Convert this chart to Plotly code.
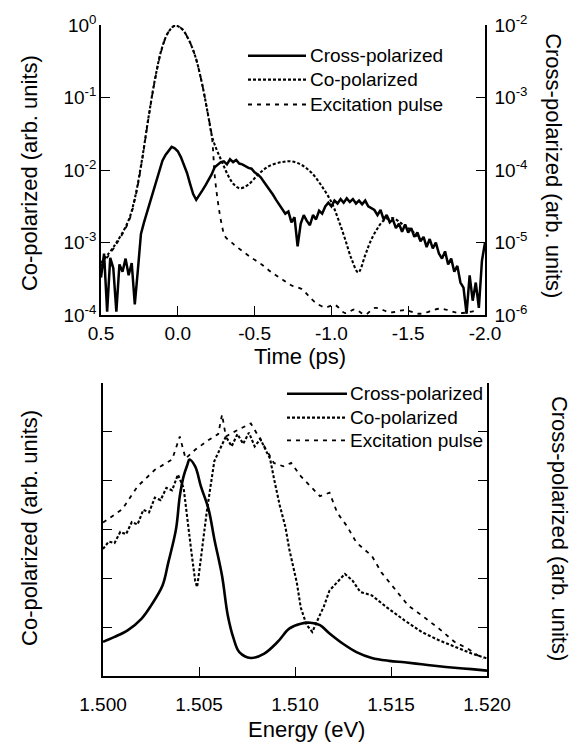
import numpy as np
import plotly.graph_objects as go

# %% top panel: time domain (log scales)
time_ticks = [0.5, 0.0, -0.5, -1.0, -1.5, -2.0]
time_ticktext = ["0.5", "0.0", "-0.5", "-1.0", "-1.5", "-2.0"]
co_exponents = [-4, -3, -2, -1, 0]
cross_exponents = [-6, -5, -4, -3, -2]

# co-polarized, log10 of signal (left axis)
copol_t = [0.500, 0.409, 0.322, 0.279, 0.235, 0.192, 0.148, 0.105, 0.062, 0.018,
           -0.025, -0.068, -0.112, -0.155, -0.198, -0.221, -0.242, -0.286, -0.329, -0.366,
           -0.405, -0.459, -0.524, -0.589, -0.676, -0.741, -0.807, -0.872, -0.937, -1.002,
           -1.045, -1.089, -1.132, -1.175, -1.219, -1.251, -1.295, -1.338, -1.395, -1.460,
           -1.525, -1.590]
copol_log = [-3.28, -3.03, -2.70, -2.38, -1.88, -1.29, -0.74, -0.33, -0.10, -0.01,
             -0.05, -0.19, -0.42, -0.78, -1.25, -1.52, -1.66, -1.88, -2.08, -2.20,
             -2.25, -2.20, -2.06, -1.95, -1.89, -1.88, -1.93, -2.04, -2.22, -2.45,
             -2.68, -2.95, -3.23, -3.41, -3.18, -3.00, -2.82, -2.70, -2.66, -2.74,
             -2.84, -2.98]

# excitation pulse, log10 of signal (left axis)
exc_t = [0.500, 0.409, 0.322, 0.279, 0.235, 0.192, 0.148, 0.105, 0.062, 0.018,
         -0.025, -0.068, -0.112, -0.155, -0.198, -0.221, -0.242, -0.264, -0.286, -0.307,
         -0.351, -0.416, -0.481, -0.546, -0.611, -0.676, -0.741, -0.807, -0.850, -0.893,
         -0.958, -1.023, -1.089, -1.154, -1.219, -1.284, -1.382, -1.479, -1.577, -1.707,
         -1.837, -1.954]
exc_log = [-3.32, -3.05, -2.72, -2.40, -1.90, -1.30, -0.75, -0.34, -0.10, -0.01,
           -0.05, -0.19, -0.42, -0.78, -1.25, -1.52, -2.11, -2.48, -2.75, -2.91,
           -3.00, -3.11, -3.21, -3.30, -3.41, -3.50, -3.59, -3.64, -3.73, -3.82,
           -3.89, -3.86, -3.97, -3.92, -3.99, -3.90, -3.96, -3.93, -3.98, -3.91,
           -3.97, -3.93]

# cross-polarized, log10 of signal (right axis), sampled every 0.02 ps
cross_t = np.linspace(0.5, -2.0, 126)
cross_log = [-5.48, -5.15, -5.95, -5.21, -5.35, -5.95, -5.30, -5.40, -5.22, -5.45,
             -5.28, -5.85, -5.38,
             -4.88, -4.72, -4.58, -4.42, -4.29, -4.15, -3.99, -3.87, -3.79, -3.74,
             -3.68, -3.70, -3.74, -3.82, -3.92, -4.04, -4.19, -4.33,
             -4.41, -4.35, -4.28, -4.21, -4.14, -4.06, -3.96, -3.93, -3.89, -3.88,
             -3.92, -3.85, -3.89, -3.86, -3.91, -3.92, -3.95, -3.97, -3.98, -4.03,
             -4.06, -4.10, -4.16, -4.22, -4.27, -4.34, -4.41, -4.47, -4.54, -4.60,
             -4.57, -4.72, -4.65, -5.05, -4.74, -4.62, -4.70, -4.76, -4.62, -4.68,
             -4.56, -4.60, -4.50, -4.45, -4.50, -4.42, -4.46, -4.40, -4.45, -4.39,
             -4.44, -4.40, -4.46, -4.42, -4.47, -4.42, -4.50, -4.52, -4.55, -4.62,
             -4.55, -4.68, -4.62, -4.72, -4.68, -4.80, -4.74, -4.85, -4.75, -4.86,
             -4.80, -4.92, -4.86, -4.98, -4.92, -5.06, -4.95, -5.08, -5.00, -5.15,
             -5.22, -5.12, -5.30, -5.22, -5.40, -5.32, -5.55, -5.62, -5.98, -5.45,
             -5.80, -5.55, -5.90, -5.25, -5.00]

# %% bottom panel: spectra (linear, arb. units)
energy_ticks = [1.500, 1.505, 1.510, 1.515, 1.520]
energy_ticktext = ["1.500", "1.505", "1.510", "1.515", "1.520"]
spec_ticks = [1, 2, 3, 4, 5, 6]

cross_e = [1.5000, 1.5006, 1.5013, 1.5020, 1.5025, 1.5031, 1.5034, 1.5038, 1.5040, 1.5042,
           1.5044, 1.5045, 1.5048, 1.5051, 1.5055, 1.5058, 1.5062, 1.5065, 1.5068, 1.5071,
           1.5077, 1.5084, 1.5091, 1.5097, 1.5103, 1.5108, 1.5113, 1.5118, 1.5125, 1.5132,
           1.5140, 1.5149, 1.5157, 1.5166, 1.5175, 1.5183, 1.5192, 1.5200]
cross_spec = [0.70, 0.80, 0.94, 1.17, 1.44, 1.85, 2.32, 3.00, 3.68, 4.09,
              4.33, 4.43, 4.29, 3.88, 3.41, 2.80, 2.05, 1.24, 0.77, 0.49,
              0.37, 0.46, 0.70, 0.97, 1.07, 1.09, 1.04, 0.87, 0.66, 0.49,
              0.37, 0.31, 0.28, 0.24, 0.20, 0.17, 0.14, 0.11]

copol_e = [1.5000, 1.5003, 1.5006, 1.5009, 1.5012, 1.5015, 1.5018, 1.5021, 1.5024, 1.5027,
           1.5030, 1.5033, 1.5036, 1.5039, 1.5042, 1.5044, 1.5046, 1.5048, 1.5049, 1.5050,
           1.5052, 1.5054, 1.5056, 1.5058, 1.5061, 1.5064, 1.5067, 1.5070, 1.5073, 1.5076,
           1.5079, 1.5082, 1.5085, 1.5087, 1.5089, 1.5092, 1.5095, 1.5097, 1.5101, 1.5103,
           1.5106, 1.5109, 1.5111, 1.5115, 1.5118, 1.5122, 1.5126, 1.5130, 1.5134, 1.5140,
           1.5148, 1.5157, 1.5166, 1.5175, 1.5183, 1.5192, 1.5200]
copol_spec = [2.60, 2.75, 2.72, 2.95, 2.90, 3.15, 3.10, 3.40, 3.35, 3.65,
              3.60, 3.85, 3.80, 4.12, 3.85, 3.15, 2.55, 1.95, 1.82, 2.10,
              2.75, 3.35, 3.88, 4.40, 4.65, 4.90, 4.70, 4.95, 4.75, 4.98,
              4.70, 4.85, 4.60, 4.45, 4.05, 3.50, 3.05, 2.60, 1.90, 1.40,
              1.05, 0.90, 1.08, 1.42, 1.75, 1.92, 2.09, 1.95, 1.72, 1.65,
              1.40, 1.14, 0.90, 0.73, 0.60, 0.46, 0.36]

exc_e = [1.5000, 1.5010, 1.5018, 1.5027, 1.5036, 1.5040, 1.5043, 1.5048, 1.5055, 1.5060,
         1.5062, 1.5064, 1.5067, 1.5073, 1.5077, 1.5083, 1.5089, 1.5094, 1.5098, 1.5103,
         1.5108, 1.5113, 1.5118, 1.5122, 1.5127, 1.5132, 1.5140, 1.5145, 1.5152, 1.5159,
         1.5166, 1.5175, 1.5183, 1.5190, 1.5198]
exc_spec = [3.14, 3.41, 3.88, 4.22, 4.43, 4.90, 4.45, 4.63, 4.83, 4.95,
            5.35, 4.90, 4.97, 5.10, 5.17, 4.77, 4.36, 4.29, 4.36, 4.09,
            3.88, 3.68, 3.75, 3.34, 3.07, 2.73, 2.46, 2.12, 1.78, 1.44,
            1.24, 0.97, 0.70, 0.56, 0.35]

series_names = ["Cross-polarized", "Co-polarized", "Excitation pulse"]

# %% styles / geometry
W, H = 576, 743
L, R, T, B = 101, 89, 21, 67
PW, PH = W - L - R, H - T - B
FONT = "Liberation Sans, Arial, sans-serif"

CROSS_LINE = {"color": "black", "width": 2.6}
COPOL_LINE = {"color": "black", "width": 2.1, "dash": "3px,2px"}
EXC_LINE = {"color": "black", "width": 1.8, "dash": "4px,5px"}


def xp(px):
    return (px - L) / PW


def yp(py):
    return (H - B - py) / PH


fig = go.Figure()

# top panel traces
fig.add_trace(go.Scatter(x=exc_t, y=10 ** np.array(exc_log), mode="lines",
                         line=EXC_LINE, line_shape="spline", xaxis="x", yaxis="y",
                         name=series_names[2]))
fig.add_trace(go.Scatter(x=copol_t, y=10 ** np.array(copol_log), mode="lines",
                         line=COPOL_LINE, line_shape="spline", xaxis="x", yaxis="y",
                         name=series_names[1]))
fig.add_trace(go.Scatter(x=cross_t, y=10 ** np.array(cross_log), mode="lines",
                         line={"color": "black", "width": 2.5}, xaxis="x", yaxis="y2",
                         name=series_names[0]))

# bottom panel traces
fig.add_trace(go.Scatter(x=exc_e, y=exc_spec, mode="lines", line=EXC_LINE,
                         xaxis="x2", yaxis="y3", name=series_names[2]))
fig.add_trace(go.Scatter(x=copol_e, y=copol_spec, mode="lines", line=COPOL_LINE,
                         xaxis="x2", yaxis="y3", name=series_names[1]))
fig.add_trace(go.Scatter(x=cross_e, y=cross_spec, mode="lines", line=CROSS_LINE,
                         line_shape="spline", xaxis="x2", yaxis="y4",
                         name=series_names[0]))

axis_common = dict(
    showline=True, linecolor="black", linewidth=1.5, showgrid=False, zeroline=False,
    ticks="inside", ticklen=9, tickwidth=1, tickcolor="black",
    tickfont={"size": 19, "color": "black", "family": FONT},
)

top_x = [xp(101), xp(485)]
top_y = [yp(313), yp(21)]
bot_x = [xp(103), xp(487)]
bot_y = [yp(676), yp(381)]

fig.update_layout(
    width=W, height=H,
    margin={"l": L, "r": R, "t": T, "b": B},
    paper_bgcolor="white", plot_bgcolor="white",
    showlegend=False,
    font={"family": FONT, "color": "black"},
    xaxis=dict(axis_common, domain=top_x, anchor="y", range=[0.5, -2.0],
               tickvals=time_ticks, ticktext=time_ticktext),
    yaxis=dict(axis_common, domain=top_y, anchor="x", type="log", range=[-4, 0],
               tickvals=[10.0 ** e for e in co_exponents],
               ticktext=[f"10<sup>{e}</sup>" for e in co_exponents],
               ticklabelstandoff=-1),
    yaxis2=dict(axis_common, overlaying="y", side="right", anchor="x", type="log",
                range=[-6, -2], tickvals=[10.0 ** e for e in cross_exponents],
                ticktext=[f"10<sup>{e}</sup>" for e in cross_exponents],
                ticklabelstandoff=4),
    xaxis2=dict(axis_common, domain=bot_x, anchor="y3", range=[1.5, 1.52],
                tickvals=energy_ticks, ticktext=energy_ticktext, ticklabelstandoff=10),
    yaxis3=dict(axis_common, domain=bot_y, anchor="x2", range=[0, 6],
                tickvals=spec_ticks, showticklabels=False),
    yaxis4=dict(axis_common, overlaying="y3", side="right", anchor="x2", range=[0, 6],
                tickvals=spec_ticks, showticklabels=False),
)

# axis titles
title_font = {"size": 22, "color": "black", "family": FONT}
titles = [
    ("Time (ps)", 300, 355, 0),
    ("Energy (eV)", 306, 730, 0),
    ("Co-polarized (arb. units)", 29, 170, -90),
    ("Co-polarized (arb. units)", 30, 527, -90),
    ("Cross-polarized (arb. units)", 554, 162, 90),
    ("Cross-polarized (arb. units)", 559, 527, 90),
]
for text, px, py, ang in titles:
    fig.add_annotation(text=text, x=xp(px), y=yp(py), xref="paper", yref="paper",
                       showarrow=False, textangle=ang, font=title_font,
                       xanchor="center", yanchor="middle")

# legends drawn as line samples + labels
legend_font = {"size": 19, "color": "black", "family": FONT}
legend_styles = [CROSS_LINE, COPOL_LINE, EXC_LINE]
legend_boxes = [
    (248, 306, 308, [52, 76, 101]),
    (287, 347, 348, [392, 416, 439]),
]
for x0, x1, xt, rows in legend_boxes:
    for name, style, py in zip(series_names, legend_styles, rows):
        fig.add_shape(type="line", xref="paper", yref="paper",
                      x0=xp(x0), x1=xp(x1), y0=yp(py), y1=yp(py), line=style)
        fig.add_annotation(text=name, x=xp(xt), y=yp(py), xref="paper", yref="paper",
                           showarrow=False, xanchor="left", yanchor="middle",
                           font=legend_font)

# page body has a default 8px margin; drop it so the figure sits at the corner
fig.write_html("out.html", config={"displayModeBar": False},
               post_script="document.body.style.margin='0';"
                           "document.body.style.overflow='hidden';")
